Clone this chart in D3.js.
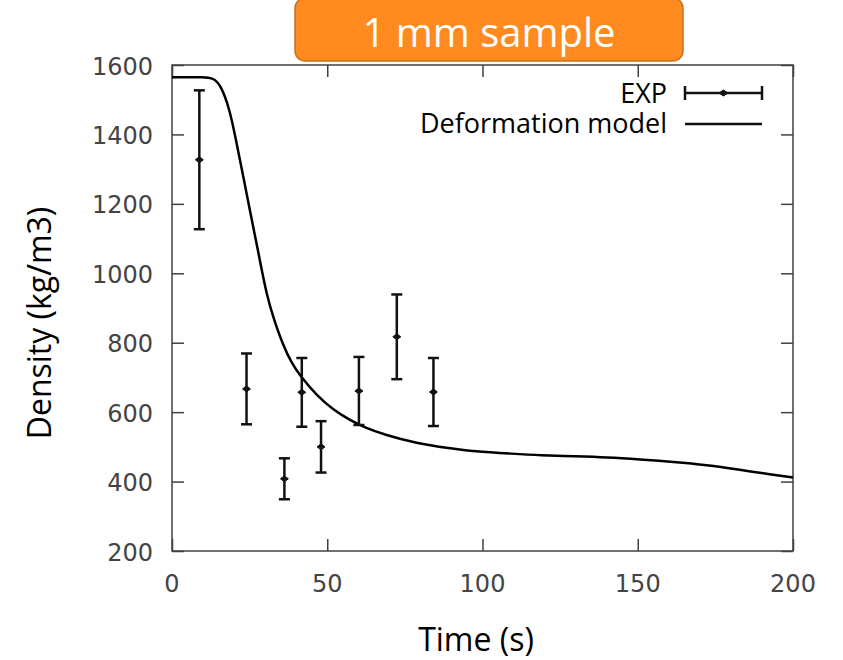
<!DOCTYPE html>
<html>
<head>
<meta charset="utf-8">
<script src="https://cdn.jsdelivr.net/npm/d3@7"></script>
<style>
  body { margin: 0; background: #fff; }
  svg { display: block; }
</style>
</head>
<body>
<svg width="843" height="660"></svg>
<script>
// experimental points (time s, density kg/m3, error)
var expTime = [8.8, 24, 36.2, 41.8, 48, 60.2, 72.4, 84.2];
var expDensity = [1327, 667, 408, 657, 500, 661, 817, 658];
var expError = [200, 102, 59, 99, 74, 98, 122, 98];

// deformation model curve
var modelTime = [0, 5, 10, 13, 15.5, 18.7, 20.8, 23, 25.1, 27.5, 30.5, 33, 35.9, 38.5, 41.2, 46.6, 52, 57.3, 62, 68.1, 78.8, 89.5, 97, 110, 118.5, 130, 140, 150.7, 161.5, 172.2, 182.9, 190, 200];
var modelDensity = [1565, 1565, 1565, 1563, 1547, 1470, 1374, 1278, 1180, 1075, 935, 862, 790, 742, 705, 648, 606, 577, 556, 536, 510, 496, 487, 480, 476, 473, 470, 464, 457, 448, 434, 424, 412];

var xTicks = [0, 50, 100, 150, 200];
var yTicks = [200, 400, 600, 800, 1000, 1200, 1400, 1600];

var svg = d3.select("svg"),
    plotLeft = 172, plotRight = 793, plotTop = 65, plotBottom = 551,
    tickLen = 12,
    axisColor = "#404040",
    labelFont = "'Open Sans', sans-serif",
    tickFont = "'DejaVu Sans', sans-serif";

var x = d3.scaleLinear().domain([0, 200]).range([plotLeft, plotRight]);
var y = d3.scaleLinear().domain([200, 1600]).range([plotBottom, plotTop]);

var g = svg.append("g");

// inner ticks on all four sides (gnuplot style)
g.append("g").attr("transform", "translate(0," + plotBottom + ")")
  .call(d3.axisBottom(x).tickValues(xTicks).tickSizeInner(-tickLen).tickSizeOuter(0).tickFormat(""));
g.append("g").attr("transform", "translate(0," + plotTop + ")")
  .call(d3.axisTop(x).tickValues(xTicks).tickSizeInner(-tickLen).tickSizeOuter(0).tickFormat(""));
g.append("g").attr("transform", "translate(" + plotLeft + ",0)")
  .call(d3.axisLeft(y).tickValues(yTicks).tickSizeInner(-tickLen).tickSizeOuter(0).tickFormat(""));
g.append("g").attr("transform", "translate(" + plotRight + ",0)")
  .call(d3.axisRight(y).tickValues(yTicks).tickSizeInner(-tickLen).tickSizeOuter(0).tickFormat(""));

g.selectAll(".domain").remove();
g.selectAll(".tick line").attr("stroke", axisColor).attr("stroke-width", 1.5);

// frame
g.append("rect")
  .attr("x", plotLeft).attr("y", plotTop)
  .attr("width", plotRight - plotLeft).attr("height", plotBottom - plotTop)
  .attr("fill", "none").attr("stroke", axisColor).attr("stroke-width", 1.5);

// tick labels
g.selectAll(".xlab").data(xTicks).enter().append("text")
  .attr("x", function(d) { return x(d); })
  .attr("y", plotBottom + 41)
  .attr("text-anchor", "middle")
  .attr("font-family", tickFont).attr("font-size", 24)
  .attr("fill", "#444")
  .text(function(d) { return d; });

g.selectAll(".ylab").data(yTicks).enter().append("text")
  .attr("x", plotLeft - 19)
  .attr("y", function(d) { return y(d); })
  .attr("dy", "0.4em")
  .attr("text-anchor", "end")
  .attr("font-family", tickFont).attr("font-size", 24)
  .attr("fill", "#444")
  .text(function(d) { return d; });

// axis titles
svg.append("text")
  .attr("x", 476).attr("y", 651)
  .attr("text-anchor", "middle")
  .attr("font-family", labelFont).attr("font-size", 32)
  .text("Time (s)");

svg.append("text")
  .attr("transform", "translate(51,323) rotate(-90)")
  .attr("text-anchor", "middle")
  .attr("font-family", labelFont).attr("font-size", 32)
  .text("Density (kg/m3)");

// model curve
var line = d3.line()
  .x(function(d) { return x(d[0]); })
  .y(function(d) { return y(d[1]); })
  .curve(d3.curveBasis);

g.append("path")
  .datum(d3.zip(modelTime, modelDensity))
  .attr("d", line)
  .attr("fill", "none")
  .attr("stroke", "#000")
  .attr("stroke-width", 2.5);

// error bars
var expData = d3.range(expTime.length).map(function(i) {
  return { t: expTime[i], v: expDensity[i], e: expError[i] };
});

var bars = g.selectAll(".bar").data(expData).enter().append("g")
  .attr("stroke", "#111").attr("stroke-width", 2.5);

bars.append("line")
  .attr("x1", function(d) { return x(d.t); }).attr("x2", function(d) { return x(d.t); })
  .attr("y1", function(d) { return y(d.v + d.e); }).attr("y2", function(d) { return y(d.v - d.e); });
bars.append("line")
  .attr("x1", function(d) { return x(d.t) - 5.5; }).attr("x2", function(d) { return x(d.t) + 5.5; })
  .attr("y1", function(d) { return y(d.v + d.e); }).attr("y2", function(d) { return y(d.v + d.e); });
bars.append("line")
  .attr("x1", function(d) { return x(d.t) - 5.5; }).attr("x2", function(d) { return x(d.t) + 5.5; })
  .attr("y1", function(d) { return y(d.v - d.e); }).attr("y2", function(d) { return y(d.v - d.e); });
// small diamond marker at the mean
bars.append("path")
  .attr("d", function(d) {
    var cx = x(d.t), cy = y(d.v);
    return "M" + (cx - 4) + "," + cy + "L" + cx + "," + (cy - 3) + "L" + (cx + 4) + "," + cy + "L" + cx + "," + (cy + 3) + "Z";
  })
  .attr("fill", "#111").attr("stroke-width", 1);

// legend
var legend = svg.append("g").attr("font-family", labelFont).attr("font-size", 27);
legend.append("text").attr("x", 667).attr("y", 103).attr("text-anchor", "end").text("EXP");
legend.append("text").attr("x", 667).attr("y", 133).attr("text-anchor", "end").text("Deformation model");

var lg = legend.append("g").attr("stroke", "#111").attr("stroke-width", 2.5);
lg.append("line").attr("x1", 685).attr("x2", 762).attr("y1", 93).attr("y2", 93);
lg.append("line").attr("x1", 685).attr("x2", 685).attr("y1", 86).attr("y2", 100);
lg.append("line").attr("x1", 762).attr("x2", 762).attr("y1", 86).attr("y2", 100);
lg.append("path")
  .attr("d", "M719,93L723.5,90L728,93L723.5,96Z")
  .attr("fill", "#111").attr("stroke-width", 1);
legend.append("line").attr("x1", 685).attr("x2", 762).attr("y1", 124).attr("y2", 124)
  .attr("stroke", "#111").attr("stroke-width", 2.5);

// title box
var title = svg.append("g");
title.append("rect")
  .attr("x", 295).attr("y", -2)
  .attr("width", 388).attr("height", 63)
  .attr("rx", 10).attr("ry", 10)
  .attr("fill", "#FF8A20").attr("stroke", "#C8701E").attr("stroke-width", 1.5);
title.append("text")
  .attr("x", 489).attr("y", 47)
  .attr("text-anchor", "middle")
  .attr("font-family", labelFont).attr("font-size", 40)
  .attr("fill", "#fff")
  .text("1 mm sample");
</script>
</body>
</html>
